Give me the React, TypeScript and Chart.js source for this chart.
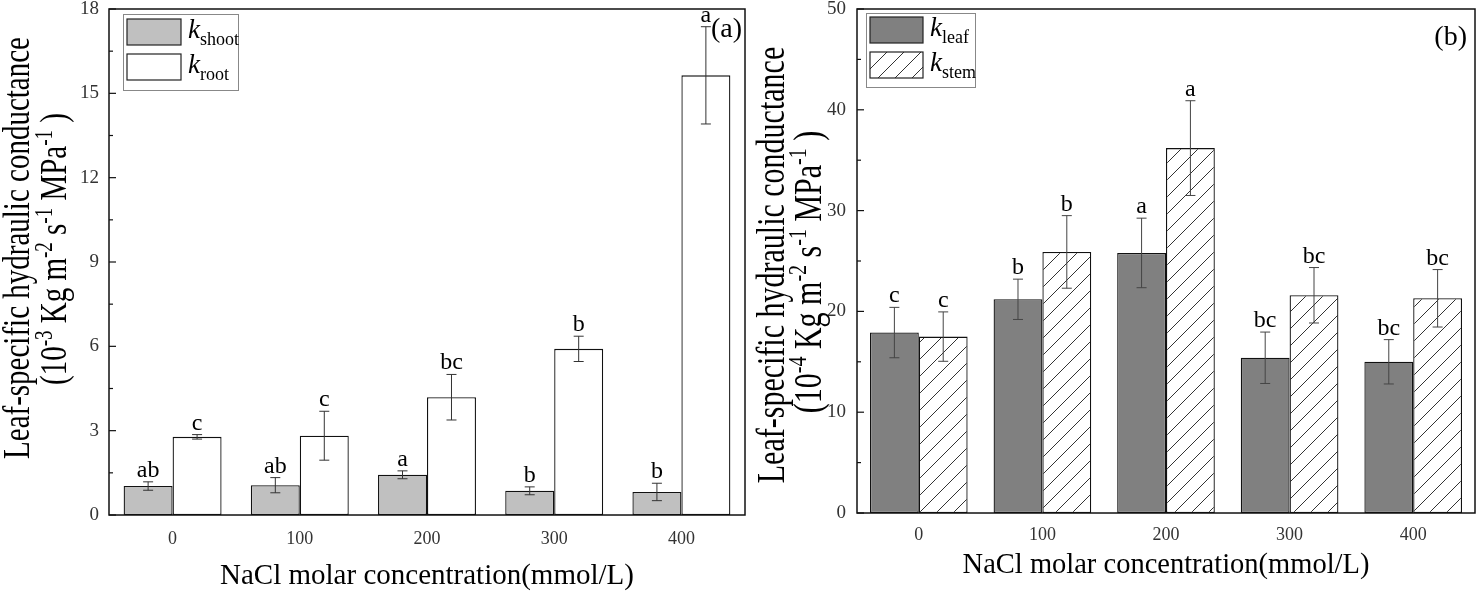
import { useEffect, useRef } from 'react'
import { Chart, registerables } from 'chart.js'

Chart.register(...registerables)

// NaCl molar concentration (mmol/L)
const concentrations = ['0', '100', '200', '300', '400']

// panel (a), 10^-3 Kg m^-2 s^-1 MPa^-1
const kShoot = [1.03, 1.06, 1.43, 0.86, 0.82]
const kShootErr = [0.15, 0.27, 0.14, 0.14, 0.31]
const kShootLetters = ['ab', 'ab', 'a', 'b', 'b']
const kRoot = [2.78, 2.82, 4.19, 5.91, 15.64]
const kRootErr = [0.08, 0.87, 0.81, 0.45, 1.73]
const kRootLetters = ['c', 'c', 'bc', 'b', 'a']

// panel (b), 10^-4 Kg m^-2 s^-1 MPa^-1
const kLeaf = [17.9, 21.2, 25.8, 15.4, 15.0]
const kLeafErr = [2.5, 2.0, 3.45, 2.55, 2.2]
const kLeafLetters = ['c', 'b', 'a', 'bc', 'bc']
const kStem = [17.5, 25.9, 36.2, 21.6, 21.3]
const kStemErr = [2.45, 3.6, 4.7, 2.75, 2.85]
const kStemLetters = ['c', 'b', 'a', 'bc', 'bc']

const SERIF = '"Liberation Serif", "Times New Roman", serif'

type Seg = { t: string; sup?: boolean; sub?: boolean; italic?: boolean }

function drawRich(ctx: CanvasRenderingContext2D, segs: Seg[], x: number, y: number, size: number, align: 'left' | 'center' | 'right') {
  const fontOf = (s: Seg) => `${s.italic ? 'italic ' : ''}${s.sup || s.sub ? Math.round(size * 0.66) : size}px ${SERIF}`
  let total = 0
  for (const s of segs) {
    ctx.font = fontOf(s)
    total += ctx.measureText(s.t).width
  }
  let cx = align === 'left' ? x : align === 'center' ? x - total / 2 : x - total
  ctx.textAlign = 'left'
  ctx.textBaseline = 'alphabetic'
  for (const s of segs) {
    ctx.font = fontOf(s)
    const dy = s.sup ? -size * 0.38 : s.sub ? size * 0.27 : 0
    ctx.fillText(s.t, cx, y + dy)
    cx += ctx.measureText(s.t).width
  }
}

function makeHatch(ctx: CanvasRenderingContext2D) {
  const s = 17
  const c = document.createElement('canvas')
  c.width = s
  c.height = s
  const g = c.getContext('2d')!
  g.fillStyle = '#fff'
  g.fillRect(0, 0, s, s)
  g.strokeStyle = '#333'
  g.lineWidth = 1
  g.beginPath()
  g.moveTo(0, s)
  g.lineTo(s, 0)
  g.moveTo(-2, 2)
  g.lineTo(2, -2)
  g.moveTo(s - 2, s + 2)
  g.lineTo(s + 2, s - 2)
  g.stroke()
  return ctx.createPattern(c, 'repeat')!
}

interface Series {
  name: string
  values: number[]
  errors: number[]
  letters: string[]
  fill: string
  hatch?: boolean
}

interface PanelSpec {
  left: number
  width: number
  series: Series[]
  yMax: number
  yStep: number
  exponent: string
  tag: string
  tagX: number
  tagY: number
  catPct: number
  yAxisW: number
  xAxisH: number
  padRight: number
  yTickPad: number
  xTickPad: number
  legend: { x: number; y: number; w: number; h: number; sw: number; rows: number[] }
  title1: { x: number; y: number; size: number }
  title2: { x: number; y: number; size: number }
  xTitle: { y: number; size: number }
  errColor: string
}

const panelA: PanelSpec = {
  left: 0,
  width: 752,
  series: [
    { name: 'shoot', values: kShoot, errors: kShootErr, letters: kShootLetters, fill: '#c0c0c0' },
    { name: 'root', values: kRoot, errors: kRootErr, letters: kRootLetters, fill: '#ffffff' },
  ],
  yMax: 18,
  yStep: 3,
  exponent: '-3',
  tag: '(a)',
  tagX: 742,
  tagY: 37,
  catPct: 0.77,
  yAxisW: 109,
  xAxisH: 78,
  padRight: 7,
  yTickPad: 10,
  xTickPad: 13,
  legend: { x: 123, y: 14, w: 115, h: 76, sw: 54, rows: [19, 54] },
  title1: { x: 29, y: 248, size: 29 },
  title2: { x: 66, y: 249, size: 29 },
  xTitle: { y: 584, size: 29 },
  errColor: '#333',
}

const panelB: PanelSpec = {
  left: 752,
  width: 725,
  series: [
    { name: 'leaf', values: kLeaf, errors: kLeafErr, letters: kLeafLetters, fill: '#808080' },
    { name: 'stem', values: kStem, errors: kStemErr, letters: kStemLetters, fill: '#ffffff', hatch: true },
  ],
  yMax: 50,
  yStep: 10,
  exponent: '-4',
  tag: '(b)',
  tagX: 715,
  tagY: 45,
  catPct: 0.79,
  yAxisW: 105,
  xAxisH: 80,
  padRight: 2,
  yTickPad: 11,
  xTickPad: 11,
  legend: { x: 114, y: 13, w: 109, h: 74, sw: 53, rows: [17, 52] },
  title1: { x: 32, y: 265, size: 30 },
  title2: { x: 69, y: 272, size: 30 },
  xTitle: { y: 573, size: 28.5 },
  errColor: '#444',
}

function Panel({ spec }: { spec: PanelSpec }) {
  const canvasRef = useRef<HTMLCanvasElement>(null)
  const chartInstance = useRef<Chart | null>(null)

  useEffect(() => {
    if (!canvasRef.current) return
    if (chartInstance.current) chartInstance.current.destroy()
    const ctx = canvasRef.current.getContext('2d')
    if (!ctx) return
    const hatch = makeHatch(ctx)

    const overlay = {
      id: 'overlay',
      afterDraw(chart: Chart) {
        const c = chart.ctx
        const area = chart.chartArea
        const yScale = chart.scales.y
        c.save()

        // frame
        c.strokeStyle = '#111'
        c.lineWidth = 1.5
        c.strokeRect(area.left, area.top, area.right - area.left, area.bottom - area.top)

        // inward ticks on the y axis, minor at half steps
        c.lineWidth = 1.2
        const half = spec.yStep / 2
        for (let k = 0; k * half <= spec.yMax + 1e-9; k++) {
          const py = yScale.getPixelForValue(k * half)
          const len = k % 2 === 0 ? 7 : 4
          c.beginPath()
          c.moveTo(area.left, py)
          c.lineTo(area.left + len, py)
          c.stroke()
        }

        // error bars and letters
        spec.series.forEach((s, d) => {
          const meta = chart.getDatasetMeta(d)
          meta.data.forEach((el: any, i: number) => {
            const v = s.values[i]
            const e = s.errors[i]
            const top = yScale.getPixelForValue(v + e)
            const bot = yScale.getPixelForValue(v - e)
            c.strokeStyle = spec.errColor
            c.lineWidth = 1
            c.beginPath()
            c.moveTo(el.x, top)
            c.lineTo(el.x, bot)
            c.moveTo(el.x - 5, top)
            c.lineTo(el.x + 5, top)
            c.moveTo(el.x - 5, bot)
            c.lineTo(el.x + 5, bot)
            c.stroke()
            c.fillStyle = '#000'
            c.font = `24px ${SERIF}`
            c.textAlign = 'center'
            c.textBaseline = 'alphabetic'
            c.fillText(s.letters[i], el.x, top - 5)
          })
        })

        // legend
        const lg = spec.legend
        c.strokeStyle = '#888'
        c.lineWidth = 1
        c.fillStyle = '#fff'
        c.fillRect(lg.x, lg.y, lg.w, lg.h)
        c.strokeRect(lg.x + 0.5, lg.y + 0.5, lg.w, lg.h)
        spec.series.forEach((s, d) => {
          const ry = lg.rows[d]
          c.fillStyle = s.hatch ? hatch : s.fill
          c.fillRect(lg.x + 4, ry, lg.sw, 26)
          c.strokeStyle = '#222'
          c.lineWidth = 1.2
          c.strokeRect(lg.x + 4, ry, lg.sw, 26)
          c.fillStyle = '#000'
          drawRich(c, [{ t: 'k', italic: true }, { t: s.name, sub: true }], lg.x + lg.sw + 11, ry + 19, 27, 'left')
        })

        // panel tag
        c.fillStyle = '#000'
        c.font = `28px ${SERIF}`
        c.textAlign = 'right'
        c.textBaseline = 'alphabetic'
        c.fillText(spec.tag, spec.tagX, spec.tagY)

        // x title
        drawRich(c, [{ t: 'NaCl molar concentration(mmol/L)' }], (area.left + area.right) / 2, spec.xTitle.y, spec.xTitle.size, 'center')

        // y title, two lines, glyphs a bit stretched as in the figure
        const drawRotated = (segs: Seg[], pos: { x: number; y: number; size: number }) => {
          c.save()
          c.translate(pos.x, pos.y)
          c.scale(1.3, 1)
          c.rotate(-Math.PI / 2)
          drawRich(c, segs, 0, 0, pos.size, 'center')
          c.restore()
        }
        drawRotated([{ t: 'Leaf-specific hydraulic conductance' }], spec.title1)
        drawRotated(
          [
            { t: '(10' },
            { t: spec.exponent, sup: true },
            { t: ' Kg m' },
            { t: '-2', sup: true },
            { t: ' s' },
            { t: '-1', sup: true },
            { t: ' MPa' },
            { t: '-1', sup: true },
            { t: ' )' },
          ],
          spec.title2,
        )
        c.restore()
      },
    }

    chartInstance.current = new Chart(ctx, {
      type: 'bar',
      data: {
        labels: concentrations,
        datasets: spec.series.map((s) => ({
          label: 'k ' + s.name,
          data: s.values,
          backgroundColor: s.hatch ? (hatch as any) : s.fill,
          borderColor: '#111',
          borderWidth: 1.3,
          borderSkipped: false,
          categoryPercentage: spec.catPct,
          barPercentage: 1,
        })),
      },
      options: {
        animation: false,
        responsive: true,
        maintainAspectRatio: false,
        layout: { padding: { top: 9, right: spec.padRight, left: 0, bottom: 0 } },
        plugins: {
          legend: { display: false },
          tooltip: { enabled: false },
        },
        scales: {
          x: {
            grid: { display: false, drawTicks: false },
            border: { display: false },
            ticks: { font: { family: SERIF, size: 18 }, color: '#333', padding: spec.xTickPad },
            afterFit: (scale: any) => {
              scale.height = spec.xAxisH
              scale.paddingLeft = 0
              scale.paddingRight = 0
            },
          },
          y: {
            min: 0,
            max: spec.yMax,
            grid: { display: false, drawTicks: false },
            border: { display: false },
            ticks: { stepSize: spec.yStep, font: { family: SERIF, size: 19 }, color: '#333', padding: spec.yTickPad },
            afterFit: (scale: any) => {
              scale.width = spec.yAxisW
              scale.paddingTop = 0
              scale.paddingBottom = 0
            },
          },
        },
      },
      plugins: [overlay],
    })

    return () => {
      if (chartInstance.current) {
        chartInstance.current.destroy()
        chartInstance.current = null
      }
    }
  }, [spec])

  return (
    <div style={{ position: 'absolute', left: spec.left, top: 0, width: spec.width, height: 593 }}>
      <canvas ref={canvasRef} />
    </div>
  )
}

export default function App() {
  return (
    <div style={{ position: 'absolute', left: 0, top: 0, width: 1477, height: 593, background: '#fff' }}>
      <Panel spec={panelA} />
      <Panel spec={panelB} />
    </div>
  )
}
